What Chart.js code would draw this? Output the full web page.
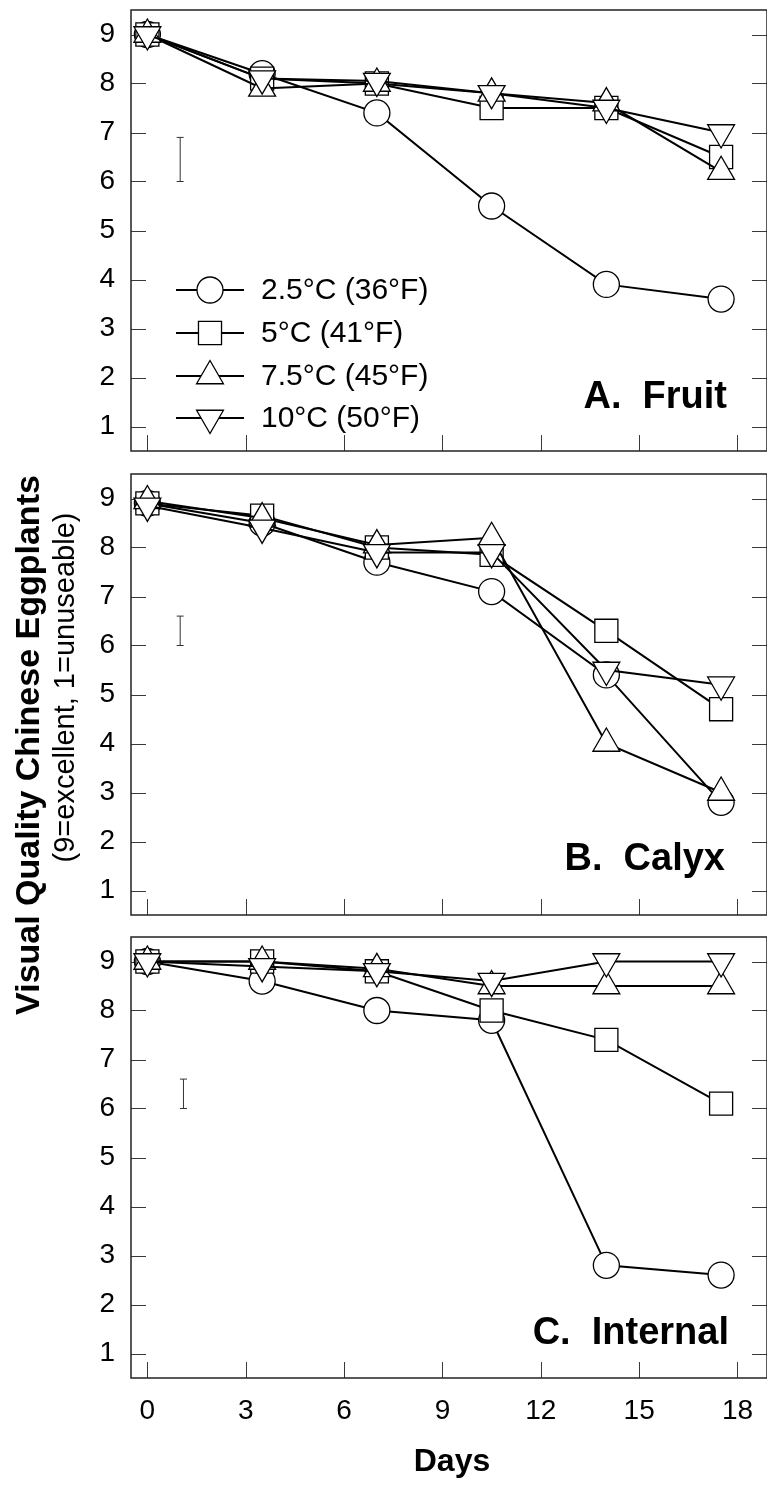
<!DOCTYPE html>
<html>
<head>
<meta charset="utf-8">
<script src="https://cdn.jsdelivr.net/npm/chart.js@4/dist/chart.umd.min.js"></script>
<style>
  body { margin: 0; background: #fff; }
  #page { position: relative; width: 767px; height: 1485px; overflow: hidden; font-family: "Liberation Sans", Arial, sans-serif; color: #000; }
  canvas { position: absolute; left: 0; }
  .panel-label { position: absolute; font-weight: bold; font-size: 38px; line-height: 38px; white-space: pre; text-align: right; }
  .ytitle { position: absolute; width: 800px; text-align: center; transform: rotate(-90deg); transform-origin: 50% 50%; white-space: nowrap; }
  #days { position: absolute; left: 352px; width: 200px; top: 1444px; text-align: center; font-weight: bold; font-size: 32px; line-height: 32px; }
</style>
</head>
<body>
<div id="page">
  <canvas id="chartA" width="767" height="462" style="top:0"></canvas>
  <canvas id="chartB" width="767" height="462" style="top:464px"></canvas>
  <canvas id="chartC" width="767" height="558" style="top:927px"></canvas>

  <div class="panel-label" style="right:40px; top:376px">A.  Fruit</div>
  <div class="panel-label" style="right:42px; top:838px">B.  Calyx</div>
  <div class="panel-label" style="right:38px; top:1312px">C.  Internal</div>

  <div class="ytitle" style="left:-373px; top:728px; font-weight:bold; font-size:34px; line-height:34px">Visual Quality Chinese Eggplants</div>
  <div class="ytitle" style="left:-336px; top:673px; font-size:29px; line-height:29px">(9=excellent, 1=unuseable)</div>

  <div id="days">Days</div>
</div>
<script>
// Chinese eggplant visual quality vs. storage days, four temperatures.

const days = [0, 3.5, 7, 10.5, 14, 17.5];
const xTickValues = [0, 3, 6, 9, 12, 15, 18];
const yTickValues = [1, 2, 3, 4, 5, 6, 7, 8, 9];
const seriesLabels = ["2.5°C (36°F)", "5°C (41°F)", "7.5°C (45°F)", "10°C (50°F)"];

// A. Fruit
const fruit25 = [9.0, 8.2, 7.4, 5.5, 3.9, 3.6];
const fruit5 = [9.0, 8.1, 8.0, 7.5, 7.5, 6.5];
const fruit75 = [9.0, 7.9, 8.0, 7.8, 7.6, 6.2];
const fruit10 = [9.0, 8.1, 8.05, 7.8, 7.5, 7.0];
const fruitLsd = [6.0, 6.9];

// B. Calyx
const calyx25 = [8.9, 8.5, 7.7, 7.1, 5.4, 2.8];
const calyx5 = [8.9, 8.65, 8.0, 7.85, 6.3, 4.7];
const calyx75 = [8.95, 8.6, 8.05, 8.2, 4.0, 3.0];
const calyx10 = [8.85, 8.4, 7.9, 7.9, 5.5, 5.2];
const calyxLsd = [6.0, 6.6];

// C. Internal
const internal25 = [9.0, 8.6, 8.0, 7.8, 2.8, 2.6];
const internal5 = [9.0, 9.0, 8.8, 8.0, 7.4, 6.1];
const internal75 = [9.0, 9.0, 8.85, 8.5, 8.5, 8.5];
const internal10 = [9.0, 8.9, 8.8, 8.6, 9.0, 9.0];
const internalLsd = [6.0, 6.6];

// day where the LSD bar sits, per panel
const lsdDays = [1, 1, 1.1];

// marker look per temperature
const markers = [
  { pointStyle: "circle", radius: 13, rotation: 0 },
  { pointStyle: "rect", radius: 16.3, rotation: 0 },
  { pointStyle: "triangle", radius: 15.5, rotation: 0 },
  { pointStyle: "triangle", radius: 15.5, rotation: 180 },
];

const FONT = "'Liberation Sans', Arial, sans-serif";
Chart.defaults.font.family = FONT;
Chart.defaults.color = "#000";

// frame round the plot + inward tick marks (left, right, bottom)
const frameTicks = {
  id: "frameTicks",
  beforeDatasetsDraw(chart) {
    const { ctx, chartArea: a, scales } = chart;
    ctx.save();
    ctx.strokeStyle = "#3a3a3a";
    ctx.lineWidth = 1;
    ctx.beginPath();
    yTickValues.forEach((v) => {
      const y = Math.round(scales.y.getPixelForValue(v)) + 0.5;
      ctx.moveTo(a.left, y);
      ctx.lineTo(a.left + 15, y);
      ctx.moveTo(a.right - 15, y);
      ctx.lineTo(a.right, y);
    });
    xTickValues.forEach((v) => {
      const x = Math.round(scales.x.getPixelForValue(v)) + 0.5;
      ctx.moveTo(x, a.bottom);
      ctx.lineTo(x, a.bottom - 16);
    });
    ctx.stroke();
    ctx.strokeStyle = "#222";
    ctx.lineWidth = 1.5;
    ctx.strokeRect(a.left, a.top, a.right - a.left, a.bottom - a.top);
    ctx.restore();
  },
};

// legend inside panel A
const legendRows = [290, 333, 376, 418];
const insideLegend = {
  id: "insideLegend",
  afterDraw(chart, args, opts) {
    if (!opts.show) return;
    const ctx = chart.ctx;
    ctx.save();
    ctx.font = "30px " + FONT;
    ctx.textBaseline = "middle";
    seriesLabels.forEach((label, i) => {
      const y = legendRows[i];
      ctx.strokeStyle = "#000";
      ctx.lineWidth = 2;
      ctx.beginPath();
      ctx.moveTo(176, y);
      ctx.lineTo(244, y);
      ctx.stroke();
      ctx.fillStyle = "#fff";
      ctx.lineWidth = 1.3;
      Chart.helpers.drawPoint(ctx, { ...markers[i], borderWidth: 1.3 }, 210, y);
      ctx.fillStyle = "#000";
      ctx.fillText(label, 261, y + 1);
    });
    ctx.restore();
  },
};

function seriesDataset(values, i) {
  return {
    label: seriesLabels[i],
    data: values.map((v, k) => ({ x: days[k], y: v })),
    order: 4 - i, // later temperatures sit on top, like the original plot
    borderColor: "#000",
    borderWidth: 2,
    backgroundColor: "#fff",
    pointBackgroundColor: "#fff",
    pointBorderColor: "#000",
    pointBorderWidth: 1.3,
    pointStyle: markers[i].pointStyle,
    pointRotation: markers[i].rotation,
    pointRadius: markers[i].radius,
    pointHoverRadius: markers[i].radius,
    tension: 0,
  };
}

function lsdDataset(range, day) {
  return {
    label: "LSD",
    data: range.map((v) => ({ x: day, y: v })),
    order: 5,
    borderColor: "#333",
    borderWidth: 1,
    pointStyle: "line",
    pointRadius: 3.5,
    pointBorderWidth: 1,
    pointBorderColor: "#333",
  };
}

// no extra room for half-labels at the axis ends
function noEndPadding(scale) {
  scale.paddingTop = 0;
  scale.paddingBottom = 0;
  scale.paddingLeft = 0;
  scale.paddingRight = 0;
}

function makePanel(id, series, lsd, lsdDay, opts) {
  const datasets = series.map((s, i) => seriesDataset(s, i));
  datasets.push(lsdDataset(lsd, lsdDay));
  return new Chart(document.getElementById(id), {
    type: "line",
    data: { datasets },
    options: {
      responsive: false,
      animation: false,
      layout: { autoPadding: false, padding: { top: 10, bottom: opts.bottomPad, left: 0, right: 0 } },
      plugins: {
        legend: { display: false },
        tooltip: { enabled: false },
        insideLegend: { show: !!opts.legend },
      },
      scales: {
        x: {
          type: "linear",
          min: -0.5,
          max: 18.9,
          display: opts.showX,
          grid: { display: false, drawTicks: false },
          border: { display: false },
          afterBuildTicks: (scale) => { scale.ticks = xTickValues.map((v) => ({ value: v })); },
          afterFit: (scale) => {
            if (opts.showX) scale.height = 107;
            noEndPadding(scale);
          },
          ticks: { font: { size: 28 }, padding: 16, color: "#000", maxRotation: 0 },
        },
        y: {
          min: 0.5,
          max: 9.5,
          grid: { display: false, drawTicks: false },
          border: { display: false },
          afterBuildTicks: (scale) => { scale.ticks = yTickValues.map((v) => ({ value: v })); },
          afterFit: (scale) => {
            scale.width = 131;
            noEndPadding(scale);
          },
          ticks: { font: { size: 28 }, padding: 16, color: "#000" },
        },
      },
    },
    plugins: [frameTicks, insideLegend],
  });
}

makePanel("chartA", [fruit25, fruit5, fruit75, fruit10], fruitLsd, lsdDays[0], { bottomPad: 11, showX: false, legend: true });
makePanel("chartB", [calyx25, calyx5, calyx75, calyx10], calyxLsd, lsdDays[1], { bottomPad: 11, showX: false });
makePanel("chartC", [internal25, internal5, internal75, internal10], internalLsd, lsdDays[2], { bottomPad: 0, showX: true });
</script>
</body>
</html>
